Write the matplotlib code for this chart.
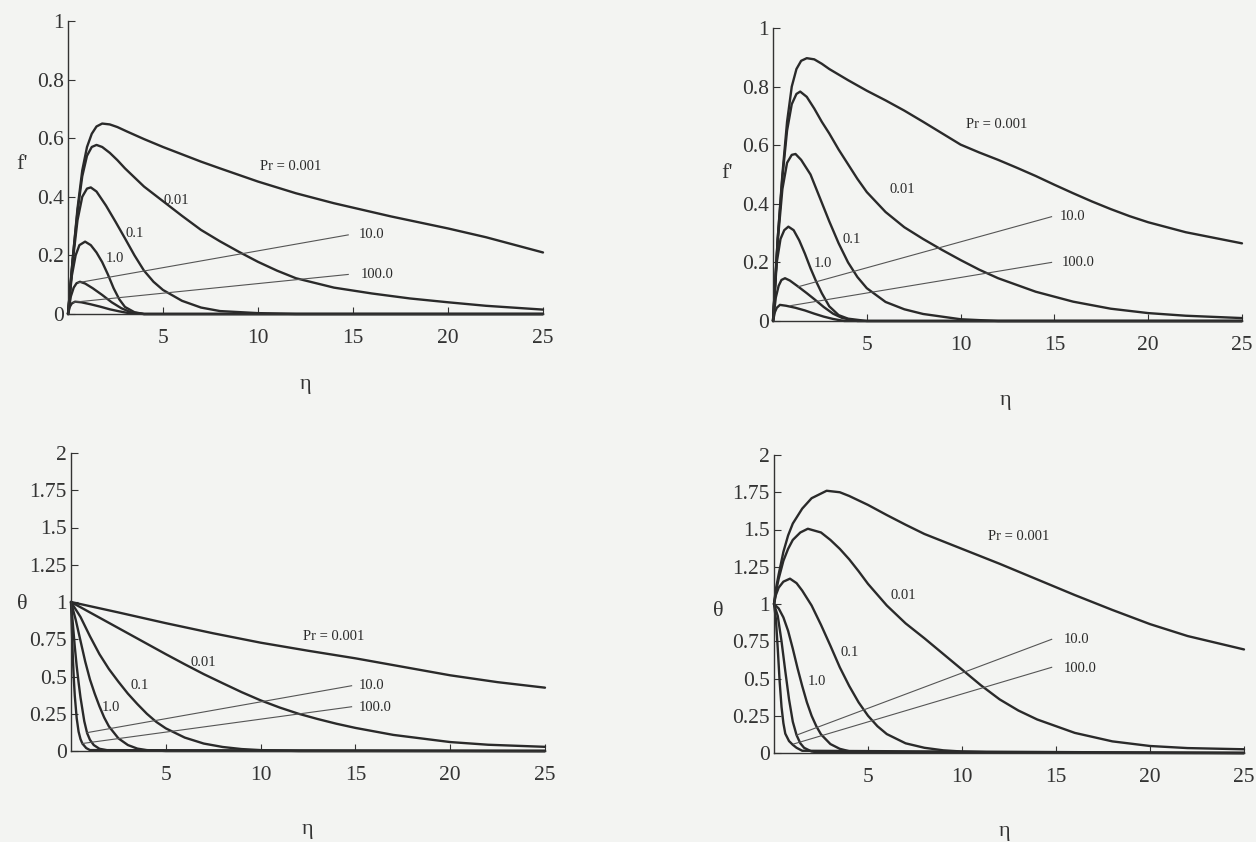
import numpy as np
import matplotlib
matplotlib.use('Agg')
import matplotlib.pyplot as plt

plt.rcParams['font.family'] = ['Liberation Serif', 'DejaVu Serif']

# ---- values: (eta, value) ----
# top left: f'
tl_0001 = [(0,0),(0.25,0.19),(0.5,0.36),(0.75,0.49),(1.0,0.57),(1.25,0.615),(1.5,0.64),(1.8,0.65),
           (2.2,0.647),(2.6,0.638),(3.1,0.623),(4,0.597),(5,0.57),(6,0.545),(7,0.52),(8,0.497),
           (10,0.452),(12,0.412),(14,0.378),(15,0.363),(17,0.333),(20,0.292),(22,0.262),(25,0.21)]
tl_001 = [(0,0),(0.25,0.19),(0.5,0.35),(0.75,0.47),(1.0,0.54),(1.25,0.57),(1.5,0.577),(1.8,0.57),
          (2.2,0.55),(2.6,0.525),(3,0.497),(3.5,0.466),(4,0.435),(5,0.385),(6,0.335),(7,0.287),
          (8,0.248),(9,0.212),(10,0.178),(11,0.148),(12,0.122),(14,0.09),(16,0.07),(18,0.053),
          (20,0.04),(22,0.028),(25,0.015)]
tl_01 = [(0,0),(0.25,0.18),(0.5,0.32),(0.75,0.4),(1.0,0.428),(1.2,0.432),(1.5,0.418),(2,0.37),
         (2.5,0.315),(3,0.258),(3.5,0.2),(4,0.148),(4.5,0.11),(5,0.082),(6,0.045),(7,0.022),
         (8,0.01),(10,0.003),(12,0),(25,0)]
tl_1 = [(0,0),(0.2,0.13),(0.4,0.2),(0.6,0.235),(0.9,0.247),(1.2,0.235),(1.5,0.21),(1.8,0.177),
        (2.1,0.135),(2.4,0.088),(2.7,0.05),(3.0,0.024),(3.5,0.006),(4,0),(25,0)]
tl_10 = [(0,0),(0.15,0.06),(0.3,0.09),(0.45,0.105),(0.63,0.11),(0.9,0.104),(1.3,0.088),(1.8,0.065),
         (2.3,0.04),(2.8,0.02),(3.3,0.006),(4,0),(25,0)]
tl_100 = [(0,0),(0.1,0.025),(0.2,0.036),(0.37,0.042),(0.7,0.04),(1.2,0.033),(1.7,0.025),(2.2,0.016),
          (2.7,0.009),(3.2,0.003),(4,0),(25,0)]
tl_lead_10 = [(0.54,0.107),(14.75,0.27)]
tl_lead_100 = [(0.28,0.04),(14.75,0.135)]

# top right: f'
tr_0001 = [(0,0),(0.25,0.28),(0.5,0.5),(0.75,0.68),(1.0,0.8),(1.25,0.86),(1.5,0.888),(1.8,0.897),
           (2.2,0.893),(2.6,0.878),(3,0.86),(4,0.822),(5,0.786),(6,0.753),(7,0.718),(8,0.68),
           (9,0.641),(10,0.602),(11,0.575),(12,0.55),(13,0.523),(14,0.495),(15,0.465),(16,0.436),
           (17,0.408),(18,0.382),(19,0.358),(20,0.337),(22,0.303),(25,0.265)]
tr_001 = [(0,0),(0.25,0.28),(0.5,0.49),(0.75,0.65),(1.0,0.74),(1.25,0.775),(1.45,0.783),(1.8,0.765),
          (2.2,0.725),(2.6,0.68),(3,0.64),(3.5,0.585),(4,0.535),(4.5,0.485),(5,0.44),(6,0.372),
          (7,0.32),(8,0.28),(9,0.243),(10,0.208),(11,0.175),(12,0.146),(14,0.1),(16,0.066),
          (18,0.042),(20,0.027),(22,0.018),(25,0.01)]
tr_01 = [(0,0),(0.25,0.27),(0.5,0.45),(0.75,0.54),(1.0,0.567),(1.2,0.57),(1.5,0.55),(2,0.5),
         (2.5,0.42),(3,0.34),(3.5,0.265),(4,0.2),(4.5,0.15),(5,0.112),(6,0.065),(7,0.04),(8,0.024),
         (10,0.006),(12,0),(25,0)]
tr_1 = [(0,0),(0.2,0.2),(0.4,0.28),(0.6,0.31),(0.82,0.322),(1.1,0.31),(1.4,0.275),(1.7,0.23),
        (2.0,0.18),(2.3,0.135),(2.6,0.095),(3.0,0.05),(3.5,0.02),(4,0.008),(5,0),(25,0)]
tr_10 = [(0,0),(0.15,0.08),(0.3,0.12),(0.45,0.14),(0.64,0.146),(0.9,0.138),(1.35,0.117),(1.8,0.095),
         (2.25,0.072),(2.7,0.048),(3.2,0.025),(3.7,0.01),(4.5,0),(25,0)]
tr_100 = [(0,0),(0.1,0.03),(0.2,0.045),(0.37,0.055),(0.7,0.052),(1.2,0.045),(1.7,0.036),(2.2,0.025),
          (2.7,0.015),(3.2,0.007),(3.8,0),(25,0)]
tr_lead_10 = [(1.35,0.117),(14.85,0.356)]
tr_lead_100 = [(0.9,0.052),(14.85,0.2)]

# bottom left: theta
bl_0001 = [(0,1),(2.5,0.93),(5,0.858),(7.5,0.79),(10,0.727),(12.5,0.673),(15,0.622),(17.5,0.565),
           (20,0.508),(22.5,0.462),(25,0.425)]
bl_001 = [(0,1),(1,0.93),(2,0.86),(3,0.79),(4,0.72),(5,0.65),(6,0.582),(7,0.516),(8,0.455),(9,0.395),
          (10,0.34),(11,0.292),(12,0.25),(13,0.215),(14,0.183),(15,0.155),(17,0.108),(20,0.06),
          (22,0.042),(25,0.028)]
bl_01 = [(0,1),(0.5,0.9),(1,0.77),(1.5,0.65),(2,0.55),(2.5,0.465),(3,0.385),(3.5,0.315),(4,0.25),
         (4.5,0.195),(5,0.152),(6,0.09),(7,0.05),(8,0.027),(9,0.013),(10,0.006),(12,0),(25,0)]
bl_1 = [(0,1),(0.25,0.88),(0.5,0.74),(0.75,0.6),(1,0.48),(1.25,0.385),(1.5,0.3),(1.75,0.225),(2,0.165),
        (2.5,0.085),(3,0.04),(3.5,0.016),(4,0.006),(5,0),(25,0)]
bl_10 = [(0,1),(0.1,0.85),(0.2,0.7),(0.3,0.57),(0.4,0.46),(0.5,0.36),(0.6,0.28),(0.7,0.2),(0.85,0.12),
         (1.0,0.075),(1.2,0.04),(1.5,0.015),(2,0.003),(25,0)]
bl_100 = [(0,1),(0.05,0.8),(0.1,0.62),(0.15,0.48),(0.2,0.37),(0.3,0.22),(0.4,0.13),(0.5,0.08),
          (0.6,0.05),(0.8,0.02),(1.0,0.006),(25,0)]
bl_lead_10 = [(0.84,0.123),(14.8,0.438)]
bl_lead_100 = [(0.58,0.05),(14.8,0.297)]

# bottom right: theta
br_0001 = [(0,1.0),(0.1,1.1),(0.25,1.2),(0.5,1.35),(0.75,1.46),(1.0,1.54),(1.5,1.64),(2,1.71),
           (2.8,1.76),(3.5,1.75),(4,1.725),(5,1.665),(6,1.597),(7,1.532),(8,1.47),(9,1.42),
           (10,1.37),(11,1.32),(12,1.27),(14,1.165),(16,1.06),(18,0.96),(20,0.865),(22,0.785),
           (25,0.695)]
br_001 = [(0,1.0),(0.1,1.08),(0.25,1.17),(0.5,1.29),(0.75,1.37),(1.0,1.43),(1.4,1.48),(1.8,1.505),
          (2.5,1.48),(3,1.43),(3.5,1.37),(4,1.3),(4.5,1.22),(5,1.135),(6,0.99),(7,0.87),(8,0.77),
          (9,0.665),(10,0.56),(11,0.455),(12,0.36),(13,0.285),(14,0.225),(16,0.135),(18,0.078),
          (20,0.047),(22,0.033),(25,0.025)]
br_01 = [(0,1.0),(0.1,1.06),(0.25,1.11),(0.5,1.15),(0.85,1.17),(1.2,1.14),(1.5,1.09),(2,0.99),
         (2.5,0.86),(3,0.72),(3.5,0.575),(4,0.45),(4.5,0.34),(5,0.25),(5.5,0.18),(6,0.127),
         (7,0.065),(8,0.035),(9,0.018),(10,0.01),(12,0.003),(25,0)]
br_1 = [(0,1.0),(0.25,0.97),(0.5,0.91),(0.75,0.82),(1.0,0.7),(1.25,0.57),(1.5,0.45),(1.75,0.34),
        (2,0.25),(2.25,0.18),(2.5,0.125),(3,0.06),(3.5,0.028),(4,0.012),(5,0.003),(25,0)]
br_10 = [(0,1.0),(0.2,0.92),(0.4,0.75),(0.6,0.55),(0.8,0.36),(1.0,0.21),(1.2,0.12),(1.4,0.065),
         (1.6,0.035),(2.0,0.01),(2.5,0.002),(25,0)]
br_100 = [(0,1.0),(0.1,0.9),(0.2,0.7),(0.3,0.48),(0.4,0.31),(0.5,0.2),(0.6,0.13),(0.8,0.08),
          (1.0,0.055),(1.2,0.035),(1.5,0.015),(25,0)]
br_lead_10 = [(1.2,0.12),(14.77,0.763)]
br_lead_100 = [(1.03,0.06),(14.77,0.575)]

pr_labels = ['Pr = 0.001', '0.01', '0.1', '1.0']
lead_labels = ['10.0', '100.0']

f_ticks = [0, 0.2, 0.4, 0.6, 0.8, 1]
f_ticklabels = ['0', '0.2', '0.4', '0.6', '0.8', '1']
t_ticks = [0, 0.25, 0.5, 0.75, 1, 1.25, 1.5, 1.75, 2]
t_ticklabels = ['0', '0.25', '0.5', '0.75', '1', '1.25', '1.5', '1.75', '2']
x_ticks = [5, 10, 15, 20, 25]

W, H = 1256, 842
fig = plt.figure(figsize=(W/100, H/100), dpi=100)
fig.patch.set_facecolor('#f3f4f2')

ink = '#2a2a2a'


def panel(rect_px, curves, leads, lab_pos, lead_pos, ymax, yt, ytl, ylab, ylab_pos, xlab_pos):
    l, r, t, b = rect_px
    ax = fig.add_axes([l/W, 1-b/H, (r-l)/W, (b-t)/H])
    ax.set_facecolor('none')
    for c in curves:
        e, v = np.array(c).T
        ax.plot(e, v, color=ink, lw=1.7, solid_joinstyle='round', solid_capstyle='round', clip_on=False)
    for ld in leads:
        e, v = np.array(ld).T
        ax.plot(e, v, color='#555555', lw=0.8)
    for txt, (x, y) in zip(pr_labels, lab_pos):
        ha = 'left' if txt.startswith('Pr') else 'center'
        ax.text(x, y, txt, fontsize=10.5, ha=ha, va='center', color=ink)
    for txt, (x, y) in zip(lead_labels, lead_pos):
        ax.text(x, y, txt, fontsize=10.5, ha='left', va='center', color=ink)
    ax.set_xlim(0, 25)
    ax.set_ylim(0, ymax)
    for s in ['top', 'right']:
        ax.spines[s].set_visible(False)
    for s in ['left', 'bottom']:
        ax.spines[s].set_color('#333333')
        ax.spines[s].set_linewidth(1.0)
    ax.set_xticks(x_ticks)
    ax.set_yticks(yt)
    ax.set_yticklabels(ytl)
    ax.tick_params(direction='in', length=5, width=0.8, labelsize=15.5, colors='#333333')
    ax.tick_params(axis='x', pad=11)
    ax.tick_params(axis='y', pad=3)
    ax.text(ylab_pos[0], ylab_pos[1], ylab, transform=ax.transAxes, fontsize=16,
            ha='center', va='center', color='#333333')
    ax.text(xlab_pos[0], xlab_pos[1], '\u03b7', transform=ax.transAxes, fontsize=16,
            ha='center', va='center', color='#333333')
    return ax


panel((68, 543, 21, 314), [tl_0001, tl_001, tl_01, tl_1, tl_10, tl_100], [tl_lead_10, tl_lead_100],
      [(10.1, 0.503), (5.7, 0.389), (3.5, 0.276), (2.45, 0.19)],
      [(15.3, 0.27), (15.4, 0.136)],
      1, f_ticks, f_ticklabels, "f'", (-0.097, 0.51), (0.499, -0.242))

panel((773, 1242, 28, 321), [tr_0001, tr_001, tr_01, tr_1, tr_10, tr_100], [tr_lead_10, tr_lead_100],
      [(10.3, 0.67), (6.9, 0.45), (4.2, 0.279), (2.68, 0.197)],
      [(15.3, 0.356), (15.4, 0.2)],
      1, f_ticks, f_ticklabels, "f'", (-0.099, 0.505), (0.495, -0.27))

panel((71, 545, 453, 751), [bl_0001, bl_001, bl_01, bl_1, bl_10, bl_100], [bl_lead_10, bl_lead_100],
      [(12.25, 0.77), (7.0, 0.595), (3.6, 0.44), (2.1, 0.295)],
      [(15.15, 0.438), (15.15, 0.295)],
      2, t_ticks, t_ticklabels, '\u03b8', (-0.103, 0.493), (0.5, -0.262))

panel((774, 1244, 455, 753), [br_0001, br_001, br_01, br_1, br_10, br_100], [br_lead_10, br_lead_100],
      [(11.4, 1.455), (6.9, 1.06), (4.0, 0.673), (2.3, 0.478)],
      [(15.4, 0.763), (15.4, 0.57)],
      2, t_ticks, t_ticklabels, '\u03b8', (-0.118, 0.474), (0.49, -0.265))

fig.savefig('out.png', dpi=100, facecolor=fig.get_facecolor())
